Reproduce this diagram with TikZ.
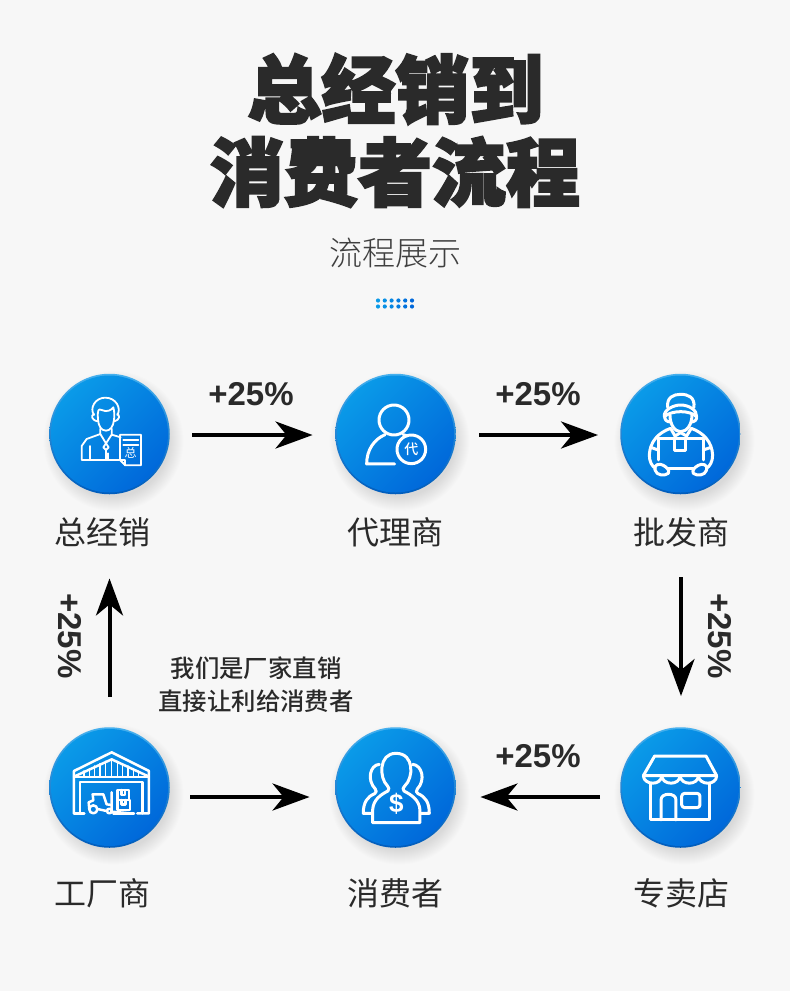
\documentclass[tikz,border=0pt]{standalone}
\usepackage{fontspec}
\usetikzlibrary{arrows.meta}
\setmainfont{Noto Sans CJK SC}
\newfontfamily\cjk{Noto Sans CJK SC}
\newfontfamily\cjkblack[FakeBold=3]{Noto Sans CJK SC Black}
\newfontfamily\cjklight{Noto Sans CJK SC Light}
\newfontfamily\cjkmed{Noto Sans CJK SC Medium}
\newfontfamily\arialb{Liberation Sans Bold}
\definecolor{bgc}{HTML}{F7F7F7}
\definecolor{ink}{HTML}{2A2A2A}
\definecolor{bl}{HTML}{0A9AE8}
\definecolor{bd}{HTML}{0068DA}
\definecolor{rimT}{HTML}{45B0EE}
\definecolor{rimB}{HTML}{005CBC}
\tikzset{
  btn/.style={circle,minimum size=120.5pt,inner sep=0pt,shading=axis,top color=rimT,bottom color=rimB},
  face/.style={circle,minimum size=117pt,inner sep=0pt,shading=axis,top color=bl,bottom color=bd,shading angle=45},
  arr/.style={line width=4pt,black,-{Stealth[length=37pt,width=27pt,inset=11pt]}},
  ico/.style={white,line width=3pt,line join=round,line cap=round},
  icothin/.style={white,line width=1.8pt,line join=round,line cap=round},
  lbl/.style={font=\cjk\fontsize{32}{32}\selectfont,text=ink,inner sep=0pt},
  pct/.style={font=\arialb\fontsize{33}{33}\selectfont,text=ink,inner sep=0pt},
  ttl/.style={font=\cjkblack\fontsize{74}{74}\selectfont,text=ink,inner sep=0pt},
  note/.style={font=\cjkmed\fontsize{24.4}{24.4}\selectfont,text=ink,inner sep=0pt},
}
\newcommand{\softshadow}[2]{%
  \foreach \rr in {70,69,...,56}{\fill[black,fill opacity=0.009] (#1+4,#2+7) circle[radius=\rr pt];}}
\begin{document}
\begin{tikzpicture}[x=1pt,y=-1pt]
\useasboundingbox (0,0) rectangle (790,991);
\fill[bgc] (0,0) rectangle (790,991);
% title
\node[ttl] (t1) at (395.5,89) {总经销到};
\node[ttl] (t2) at (395,172) {消费者流程};
\node[font=\cjklight\fontsize{33}{33}\selectfont,text=ink!90,inner sep=0pt] (t3) at (395,253) {流程展示};
% dots
\foreach \i in {0,...,5}{
  \pgfmathsetmacro{\m}{100-\i*20}
  \colorlet{dotc}{bl!\m!bd}
  \fill[dotc] (378+\i*6.8,300.5) circle[radius=2.1];
  \fill[dotc] (378+\i*6.8,306.5) circle[radius=2.1];
}
% shadows
\softshadow{109.5}{434}\softshadow{395.5}{434}\softshadow{680.5}{434}
\softshadow{109.5}{787.5}\softshadow{395.5}{787.5}\softshadow{680.5}{787.5}
% buttons
\node[btn] (a) at (109.5,434) {};
\node[btn] (b) at (395.5,434) {};
\node[btn] (c) at (680.5,434) {};
\node[btn] (d) at (680.5,787.5) {};
\node[btn] (e) at (395.5,787.5) {};
\node[btn] (f) at (109.5,787.5) {};
\node[face] (af) at (109.5,434) {};
\node[face] (bf) at (395.5,434) {};
\node[face] (cf) at (680.5,434) {};
\node[face] (df) at (680.5,787.5) {};
\node[face] (ef) at (395.5,787.5) {};
\node[face] (ff) at (109.5,787.5) {};
% labels
\node[lbl] (la) at (102,532) {总经销};
\node[lbl] (lb) at (395,532) {代理商};
\node[lbl] (lc) at (681,532) {批发商};
\node[lbl] (lf) at (102,893) {工厂商};
\node[lbl] (le) at (395,893) {消费者};
\node[lbl] (ld) at (681,893) {专卖店};
\node[pct] (p1) at (251,394) {+25\%};
\node[pct] (p2) at (538,394) {+25\%};
\node[pct] (p3) at (538,756) {+25\%};
\node[pct,rotate=-90] (p4) at (70,636) {+25\%};
\node[pct,rotate=-90] (p5) at (720,636) {+25\%};
\node[note] (n1) at (256,668) {我们是厂家直销};
\node[note] (n2) at (256,701) {直接让利给消费者};
% connectors
\draw[arr,shorten <=22.5pt,shorten >=22.5pt] ([yshift=-1pt]a.east) -- ([yshift=-1pt]b.west);
\draw[arr,shorten <=23.5pt,shorten >=22pt] ([yshift=-1pt]b.east) -- ([yshift=-1pt]c.west);
\draw[arr,shorten <=83pt,shorten >=31pt] ([xshift=.5pt]c.south) -- ([xshift=.5pt]d.north);
\draw[arr,shorten <=20pt,shorten >=24.5pt] ([yshift=-9.5pt]d.west) -- ([yshift=-9.5pt]e.east);
\draw[arr,shorten <=20.5pt,shorten >=25.5pt] ([yshift=-9.5pt]f.east) -- ([yshift=-9.5pt]e.west);
\draw[arr,shorten <=30pt,shorten >=84pt] (f.north) -- (a.south);
% icon 1
\begin{scope}[shift={(30,360)},x=.3333pt,y=-.3333pt,icothin]
\draw (192,165) .. controls (178,145) and (195,113) .. (226,113) .. controls (258,113) and (275,145) .. (262,165);
\draw (204,178) .. controls (202,150) and (205,145) .. (215,150) .. controls (230,158) and (245,150) .. (250,142) .. controls (254,155) and (253,170) .. (252,180) .. controls (250,200) and (240,212) .. (228,212) .. controls (214,212) and (205,198) .. (204,178);
\draw (192,162) .. controls (183,165) and (183,180) .. (203,184);
\draw (262,162) .. controls (270,165) and (270,180) .. (253,184);
\draw (211,206)--(211,222)--(228,250)--(245,224)--(245,206);
\draw (211,222)--(170,237)--(155,258)--(155,300)--(268,300);
\draw (245,224)--(272,232);
\draw (179,258)--(179,300);
\draw (228,250)--(220,262)--(228,270)--(236,262)--cycle;
\draw (228,270)--(228,300);
\draw (235,280)--(235,300);
\draw (270,300)--(270,224)--(333,224)--(333,316)--(286,316)--(270,300);
\draw (286,316)--(286,300)--(270,300);
\draw (280,240)--(325,240);
\draw (280,254)--(325,254);
\node[text=white,font=\cjk\fontsize{12}{12}\selectfont,inner sep=0pt] (ia) at (302,280) {总};
\end{scope}
% icon 2
\begin{scope}[shift={(330,360)},x=.3333pt,y=-.3333pt,ico]
\draw (192,180) circle[radius=45];
\draw (194,312)--(110,312) .. controls (110,270) and (132,238) .. (165,224);
\draw (220,224) -- (232,228);
\draw (244,268) circle[radius=43];
\node[text=white,font=\cjkmed\fontsize{14}{14}\selectfont,inner sep=0pt] (ib) at (244,268) {代};
\end{scope}
% icon 3
\begin{scope}[shift={(330,360)},x=.3333pt,y=-.3333pt,ico]
\draw (1013,142) .. controls (1010,112) and (1030,103) .. (1052,103) .. controls (1076,103) and (1095,112) .. (1092,142);
\draw (1003,170) .. controls (1000,150) and (1030,135) .. (1052,135) .. controls (1076,135) and (1102,150) .. (1100,170) .. controls (1080,150) and (1025,150) .. (1003,170);
\draw (1020,165) .. controls (1020,195) and (1035,215) .. (1052,215) .. controls (1070,215) and (1086,195) .. (1086,165);
\draw (1006,165) .. controls (1000,180) and (1012,186) .. (1022,186);
\draw (1098,165) .. controls (1105,180) and (1092,186) .. (1084,186);
\draw (1022,205) .. controls (985,218) and (960,245) .. (958,285) .. controls (958,305) and (966,318) .. (976,325);
\draw (1084,205) .. controls (1120,218) and (1146,245) .. (1148,285) .. controls (1148,305) and (1140,318) .. (1130,325);
\draw (1022,205)--(1035,228)--(1052,218)--(1070,228)--(1084,205);
\draw (985,300)--(985,235)--(1120,235)--(1120,300);
\draw (1015,326)--(1090,326);
\draw (1033,235)--(1033,272)--(1068,272)--(1068,235);
\draw (975,330) .. controls (970,312) and (990,310) .. (1000,316) .. controls (1010,322) and (1020,330) .. (1015,340) .. controls (1005,348) and (980,348) .. (975,330);
\draw (1130,330) .. controls (1135,312) and (1115,310) .. (1105,316) .. controls (1095,322) and (1085,330) .. (1090,340) .. controls (1100,348) and (1125,348) .. (1130,330);
\draw (962,262)--(985,270); \draw (1143,262)--(1120,270);
\end{scope}
% icon 4
\begin{scope}[shift={(30,715)},x=.3333pt,y=-.3333pt,ico,line width=2.5pt]
\draw (132,295)--(132,168)--(245,112)--(357,168)--(357,295)--(322,295);
\draw (132,295)--(163,295);
\draw (134,184)--(245,133)--(355,184);
\draw (132,186)--(357,186);
\draw (150,295)--(150,201)--(338,201)--(338,295);
\foreach \xx/\yy in {162/168,178/161,194/153,210/146,226/139,245/133,262/139,278/146,294/153,310/161,326/168}{
  \draw[line width=1.6pt] (\xx,\yy)--(\xx,186);}
\draw (190,283) circle[radius=12];
\draw (238,288) circle[radius=7];
\draw (178,284)--(176,262)--(190,256)--(188,238)--(220,238)--(230,268)--(245,270);
\draw (202,282)--(230,288);
\draw (245,232)--(245,290)--(300,295);
\draw (250,295)--(312,295);
\draw (262,255)--(262,225)--(297,225)--(297,255);
\draw (262,255)--(300,255)--(300,285)--(262,285)--cycle;
\draw (275,225)--(275,240)--(285,240)--(285,225);
\draw (275,255)--(275,268)--(287,268)--(287,255);
\end{scope}
% icon 5
\begin{scope}[shift={(30,715)},x=.3333pt,y=-.3333pt,ico]
\draw (1028,323)--(1170,323)--(1170,285) .. controls (1168,255) and (1145,240) .. (1122,228) .. controls (1118,222) and (1118,218) .. (1125,212) .. controls (1150,190) and (1155,115) .. (1098,115) .. controls (1045,115) and (1048,190) .. (1072,212) .. controls (1078,218) and (1078,222) .. (1074,228) .. controls (1050,240) and (1030,255) .. (1028,285) -- cycle;
\draw (1048,148) .. controls (1020,150) and (1010,195) .. (1036,222) .. controls (1040,228) and (1040,232) .. (1034,236) .. controls (1012,245) and (1000,262) .. (1000,295) -- (1026,295);
\draw (1148,148) .. controls (1176,150) and (1188,195) .. (1162,222) .. controls (1158,228) and (1158,232) .. (1164,236) .. controls (1186,245) and (1198,262) .. (1198,295) -- (1172,295);
\node[text=white,font=\arialb\fontsize{26}{26}\selectfont,inner sep=0pt] (ie) at (1099,266) {\$};
\end{scope}
% icon 6
\begin{scope}[shift={(600,715)},x=.3333pt,y=-.3333pt,ico]
\draw (164,123)--(318,123)--(350,182)--(130,182)--cycle;
\draw (130,182) .. controls (132,212) and (185,212) .. (185,182) .. controls (187,212) and (240,212) .. (240,182) .. controls (242,212) and (295,212) .. (295,182) .. controls (297,212) and (350,212) .. (350,182);
\draw (150,205)--(150,315)--(330,315)--(330,205);
\draw (183,315)--(183,255) .. controls (183,232) and (228,232) .. (228,255)--(228,315);
\draw[rounded corners=3pt] (245,235) rectangle (300,278);
\end{scope}
\end{tikzpicture}
\end{document}
